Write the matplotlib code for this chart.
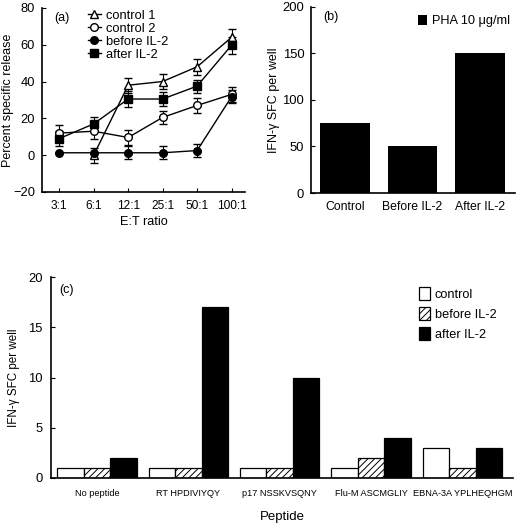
import numpy as np
import matplotlib
matplotlib.use("Agg")
import matplotlib.pyplot as plt

plt.rcParams['font.family'] = ['Liberation Sans', 'DejaVu Sans']
plt.rcParams['hatch.linewidth'] = 0.7

# Panel (a) data
ratios = ["3:1", "6:1", "12:1", "25:1", "50:1", "100:1"]
control1 = [np.nan, 0, 38, 40, 48, 64]
control1_err = [0, 4, 4, 4, 4.5, 4.5]
control2 = [12, 13, 9.6, 20.5, 27, 33]
control2_err = [4.5, 4, 4, 3.5, 4, 4]
before_a = [1.3, 1.3, 1.3, 1.3, 2.5, 31.7]
before_a_err = [0, 0, 3.5, 3.5, 3.5, 3.5]
after_a = [9, 17, 30.5, 30.5, 37.5, 59.7]
after_a_err = [4, 4, 4.5, 4, 3.5, 4.5]

# Panel (b) data
groups_b = ["Control", "Before IL-2", "After IL-2"]
pha_values = [75, 50, 150]

# Panel (c) data
peptides = ["No peptide", "RT HPDIVIYQY", "p17 NSSKVSQNY", "Flu-M ASCMGLIY", "EBNA-3A YPLHEQHGM"]
c_control = [1, 1, 1, 1, 3]
c_before = [1, 1, 1, 2, 1]
c_after = [2, 17, 10, 4, 3]

fig = plt.figure(figsize=(5.16, 5.26), dpi=100)

def style(ax):
    ax.spines['top'].set_visible(False)
    ax.spines['right'].set_visible(False)
    for s in ['left', 'bottom']:
        ax.spines[s].set_linewidth(1.2)

# ---- Panel (a)
axa = fig.add_axes([0.0814, 0.635, 0.394, 0.350])
style(axa)
x = np.arange(len(ratios))
ekw = dict(color='black', lw=1, capsize=3, capthick=1, elinewidth=0.8)
axa.errorbar(x, control1, yerr=control1_err, marker='^', mfc='white', mec='black', ms=5.5, label='control 1', **ekw)
axa.errorbar(x, control2, yerr=control2_err, marker='o', mfc='white', mec='black', ms=5.5, label='control 2', **ekw)
axa.errorbar(x, before_a, yerr=before_a_err, marker='o', mfc='black', mec='black', ms=5.5, label='before IL-2', **ekw)
axa.errorbar(x, after_a, yerr=after_a_err, marker='s', mfc='black', mec='black', ms=5.5, label='after IL-2', **ekw)
axa.set_xlim(-0.5, 5.4)
axa.set_ylim(-20, 80)
axa.set_yticks([-20, 0, 20, 40, 60, 80])
axa.set_yticklabels(['\u221220', '0', '20', '40', '60', '80'])
axa.set_xticks(x)
axa.set_xticklabels(ratios, fontsize=8.6)
axa.tick_params(axis='y', direction='in', length=3, labelsize=9.3, width=0.8, pad=5)
axa.tick_params(axis='x', direction='in', length=3, width=0.8, pad=6)
axa.set_xlabel('E:T ratio', fontsize=9.2, labelpad=3)
axa.set_ylabel('Percent specific release', fontsize=9)
axa.yaxis.set_label_coords(-0.14, 0.5)
axa.text(0.06, 0.93, '(a)', transform=axa.transAxes, fontsize=9)
h, l = axa.get_legend_handles_labels()
h = [hh[0] for hh in h]
axa.legend(h, l, loc='upper left', bbox_to_anchor=(0.18, 1.04), frameon=False, fontsize=9.3,
           handlelength=1.0, handletextpad=0.45, labelspacing=0.08, borderpad=0.2)

# ---- Panel (b)
axb = fig.add_axes([0.603, 0.633, 0.395, 0.354])
style(axb)
xb = np.arange(len(groups_b))
axb.bar(xb, pha_values, width=0.73, color='black', label='PHA 10 \u03bcg/ml')
axb.set_xlim(-0.5, 2.52)
axb.set_ylim(0, 200)
axb.set_yticks([0, 50, 100, 150, 200])
axb.set_xticks(xb)
axb.set_xticklabels(groups_b)
axb.tick_params(axis='y', direction='in', length=3, labelsize=9.4, width=0.8, pad=5)
axb.tick_params(axis='x', length=0, labelsize=8.8, pad=6)
axb.set_ylabel('IFN-\u03b3 SFC per well', fontsize=9, labelpad=2)
axb.text(0.06, 0.93, '(b)', transform=axb.transAxes, fontsize=9)
axb.legend(loc='upper right', bbox_to_anchor=(1.03, 1.02), frameon=False, fontsize=9.2,
           handlelength=0.75, handleheight=0.9, handletextpad=0.35)

# ---- Panel (c)
axc = fig.add_axes([0.0988, 0.0913, 0.895, 0.382])
style(axc)
xc = np.arange(len(peptides))
w = 0.29
axc.bar(xc - w, c_control, width=w, color='white', edgecolor='black', lw=0.9, label='control')
axc.bar(xc, c_before, width=w, color='white', edgecolor='black', lw=0.9, hatch='/////', label='before IL-2')
axc.bar(xc + w, c_after, width=w, color='black', edgecolor='black', lw=0.9, label='after IL-2')
axc.set_xlim(-0.503, 4.55)
axc.set_ylim(0, 20)
axc.set_yticks([0, 5, 10, 15, 20])
axc.set_xticks(xc)
axc.set_xticklabels(peptides, fontsize=6.6)
axc.tick_params(axis='y', direction='in', length=3, labelsize=9.4, width=0.8, pad=6)
axc.tick_params(axis='x', length=0, pad=8)
axc.set_ylabel('IFN-\u03b3 SFC per well', fontsize=8.4)
axc.yaxis.set_label_coords(-0.067, 0.5)
axc.set_xlabel('Peptide', fontsize=9.5, labelpad=9)
axc.text(0.018, 0.92, '(c)', transform=axc.transAxes, fontsize=9)
axc.legend(loc='upper right', bbox_to_anchor=(0.99, 1.01), frameon=False, fontsize=9.2,
           handlelength=0.9, handleheight=1.3, handletextpad=0.35, labelspacing=0.45)

fig.savefig('out.png', dpi=100)
